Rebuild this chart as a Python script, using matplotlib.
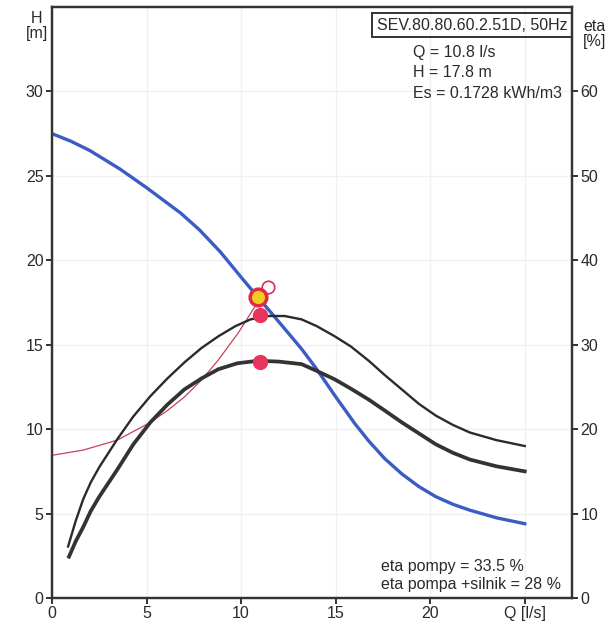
import matplotlib
matplotlib.use("Agg")
import matplotlib.pyplot as plt
from matplotlib.patches import Rectangle

plt.rcParams['font.family'] = ['Liberation Sans', 'DejaVu Sans']

# pump head curve H(Q)
q_h = [0, 1, 2, 3.6, 5, 6.8, 7.8, 8.9, 10, 10.9, 12, 13.2, 14, 14.95, 16, 16.75,
       17.6, 18.5, 19.4, 20.3, 21.2, 22.1, 23.5, 25]
h = [27.5, 27.05, 26.5, 25.4, 24.3, 22.8, 21.8, 20.5, 19.0, 17.8, 16.35, 14.75,
     13.55, 12.0, 10.35, 9.3, 8.25, 7.35, 6.6, 6.0, 5.55, 5.2, 4.75, 4.4]

# eta pompy [%]
q_eta_p = [0.85, 1.25, 1.65, 2.05, 2.5, 3.45, 4.3, 5.2, 6.1, 7.0, 7.9, 8.8, 9.7,
           10.5, 11.4, 12.3, 13.2, 14.0, 14.95, 15.8, 16.75, 17.6, 18.5, 19.4,
           20.3, 21.2, 22.1, 23.5, 25]
eta_p = [6.1, 9.1, 11.7, 13.7, 15.5, 18.8, 21.5, 23.9, 26.0, 27.9, 29.6, 31.0,
         32.2, 33.0, 33.4, 33.4, 33.0, 32.2, 31.0, 29.8, 28.1, 26.4, 24.7, 23.0,
         21.6, 20.5, 19.6, 18.7, 18.0]

# eta pompa + silnik [%]
q_eta_ps = [0.9, 1.25, 1.65, 2.05, 2.5, 3.45, 4.3, 5.2, 6.1, 7.0, 7.9, 8.8, 9.8,
            10.9, 12.0, 13.2, 14.0, 14.95, 15.8, 16.75, 17.6, 18.5, 19.4, 20.3,
            21.2, 22.1, 23.5, 25]
eta_ps = [4.9, 6.7, 8.4, 10.3, 12.0, 15.2, 18.2, 20.8, 22.9, 24.7, 26.0, 27.1,
          27.8, 28.1, 28.0, 27.7, 26.9, 25.9, 24.8, 23.5, 22.2, 20.8, 19.5, 18.2,
          17.2, 16.4, 15.6, 15.0]

# system curve
q_sys = [0, 1.65, 3.45, 5.2, 6.1, 7.0, 7.9, 8.8, 9.85, 10.7, 10.9]
h_sys = [8.45, 8.76, 9.35, 10.4, 11.1, 11.9, 12.9, 14.1, 15.7, 17.2, 17.6]

# operating point and markers
q_op, h_op = 10.9, 17.8
q_ref, h_ref = 11.4, 18.4
q_eta_pt = 11.0
eta_pts = [33.5, 28]

x_ticks = [0, 5, 10, 15, 20, 25]
x_labels = ['0', '5', '10', '15', '20', 'Q [l/s]']
h_ticks = [0, 5, 10, 15, 20, 25, 30]
eta_ticks = [0, 10, 20, 30, 40, 50, 60]

info_lines = ['Q = 10.8 l/s', 'H = 17.8 m', 'Es = 0.1728 kWh/m3']
eta_lines = ['eta pompy = 33.5 %', 'eta pompa +silnik = 28 %']

txt = '#2a2a2a'

fig = plt.figure(figsize=(6.14, 6.23), dpi=100)
ax = fig.add_axes([52 / 614, 1 - 598 / 623, 520 / 614, 591 / 623])
ax2 = ax.twinx()

ax.set_xlim(0, 27.5)
ax.set_ylim(0, 35)
ax2.set_ylim(0, 70)

ax.grid(True, color='#f1f1f1', lw=1)
ax.set_axisbelow(True)

ax.plot(q_h, h, color='#3a5cc4', lw=2.4, zorder=3)
ax.plot(q_sys, h_sys, color='#c8405a', lw=0.9, zorder=3)
ax2.plot(q_eta_p, eta_p, color='#2b2b2b', lw=1.7)
ax2.plot(q_eta_ps, eta_ps, color='#333333', lw=2.7)

ax2.plot([q_eta_pt] * len(eta_pts), eta_pts, 'o', color='#e8345a', ms=10, zorder=5)
ax2.plot(q_ref, h_ref * 2, 'o', mfc='white', mec='#d8304a', mew=1.2, ms=9, zorder=5)
ax2.plot(q_op, h_op * 2, 'o', mfc='#f2cc22', mec='#e02a48', mew=2.5, ms=12, zorder=6)

for a in (ax, ax2):
    for s in a.spines.values():
        s.set_color('#333333')
        s.set_linewidth(1.6)

ax.set_xticks(x_ticks)
ax.set_xticklabels(x_labels)
ax.set_yticks(h_ticks)
ax2.set_yticks(eta_ticks)
for a in (ax, ax2):
    a.tick_params(colors='#333333', labelcolor=txt, labelsize=11.5,
                  direction='out', length=4, width=1.4, pad=2)

fig.text(37 / 614, 1 - 26 / 623, 'H\n[m]', ha='center', va='center', fontsize=11.5,
         color=txt, linespacing=1.0)
fig.text(595 / 614, 1 - 34 / 623, 'eta\n[%]', ha='center', va='center', fontsize=11.5,
         color=txt, linespacing=1.0)

ax.add_patch(Rectangle((0.615, 0.949), 0.385, 0.041, transform=ax.transAxes,
                       fill=False, edgecolor='#333333', lw=1.4, zorder=6))
ax.text(0.8075, 0.9695, 'SEV.80.80.60.2.51D, 50Hz', transform=ax.transAxes,
        ha='center', va='center', fontsize=11.5, color=txt)

for i, line in enumerate(info_lines):
    ax.text(0.694, 1 - (52 + 20.5 * i - 7) / 591, line, transform=ax.transAxes,
            ha='left', va='center', fontsize=11.5, color=txt)
for i, line in enumerate(eta_lines):
    ax.text(0.633, (598 - 566 - 18 * i) / 591, line, transform=ax.transAxes,
            ha='left', va='center', fontsize=11.5, color=txt)

fig.savefig('out.png', dpi=100)
